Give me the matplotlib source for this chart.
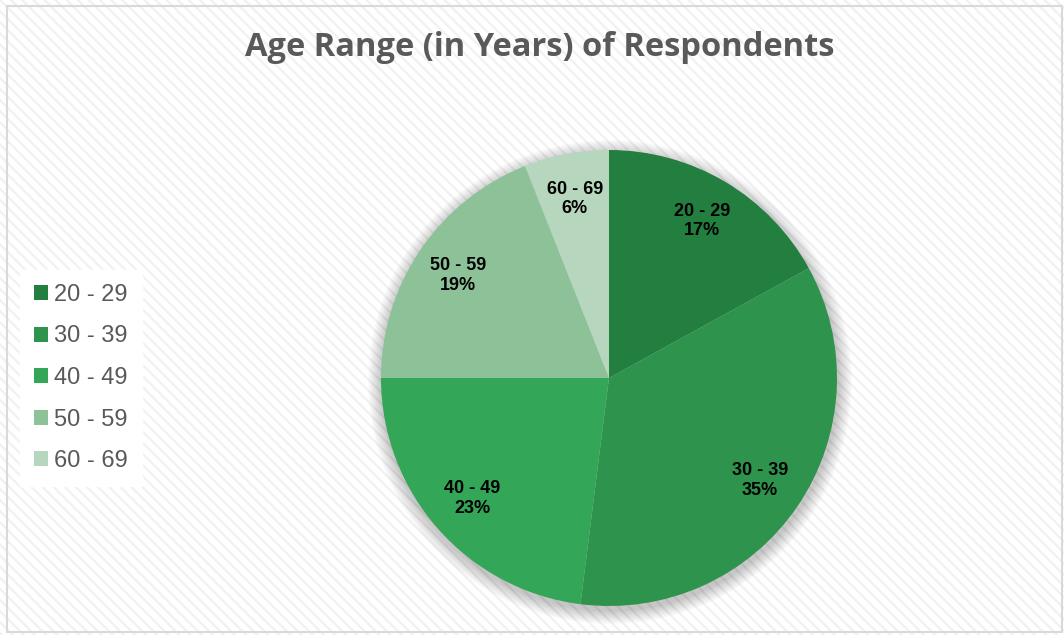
import matplotlib
matplotlib.use('Agg')
import matplotlib.pyplot as plt
from matplotlib.patches import Rectangle, Circle

# 受访者年龄段分布
age_groups = ['20 - 29', '30 - 39', '40 - 49', '50 - 59', '60 - 69']
shares = [17, 35, 23, 19, 6]
colors = ['#237f3f', '#2e934c', '#33a657', '#8dc298', '#b6d7bd']

W, H = 1064, 635
plt.rcParams['hatch.linewidth'] = 1.6

fig = plt.figure(figsize=(W / 100, H / 100), dpi=100)
ax = fig.add_axes([0, 0, 1, 1])

# 背景：白底浅灰斜纹 + 边框
ax.add_patch(Rectangle((0, 0), W, H, facecolor='white', edgecolor='#f1f1f1',
                       hatch='\\\\\\', linewidth=0, zorder=0))
ax.add_patch(Rectangle((7, 3), W - 9, H - 9, facecolor='none', edgecolor='#d9d9d9',
                       linewidth=1.5, zorder=1))

cx, cy, r = 609, H - 378, 228

# 饼图阴影
for k in range(14):
    ax.add_patch(Circle((cx + 1, cy - 4), r + 14 - k, facecolor='#000000',
                        edgecolor='none', alpha=0.016, zorder=2))

labels = [f'{g}\n{s}%' for g, s in zip(age_groups, shares)]
wedges, texts = ax.pie(shares, labels=labels, colors=colors, startangle=90,
                       counterclock=False, center=(cx, cy), radius=r,
                       labeldistance=0.8,
                       wedgeprops=dict(linewidth=0),
                       textprops=dict(ha='center', va='center', fontsize=13,
                                      fontweight='bold', color='black',
                                      family='Liberation Sans', linespacing=1.2))
for w in wedges:
    w.set_zorder(3)
for t in texts:
    t.set_zorder(4)

ax.set_xlim(0, W)
ax.set_ylim(0, H)
ax.set_aspect('equal', adjustable='box')
ax.axis('off')

ax.text(540, H - 48, 'Age Range (in Years) of Respondents', ha='center', va='center',
        fontsize=23.5, fontweight='bold', color='#595959', family='Open Sans',
        zorder=5)

leg = ax.legend(wedges, age_groups, loc='center left', bbox_to_anchor=(20 / W, (H - 378) / H),
                frameon=True, fancybox=False, framealpha=1, edgecolor='white',
                facecolor='white', handlelength=0.6, handleheight=0.6,
                handletextpad=0.25, labelspacing=0.83, borderpad=0.6, borderaxespad=0,
                prop=dict(family='Liberation Sans', size=17))
for t in leg.get_texts():
    t.set_color('#595959')

fig.savefig('out.png', dpi=100)
